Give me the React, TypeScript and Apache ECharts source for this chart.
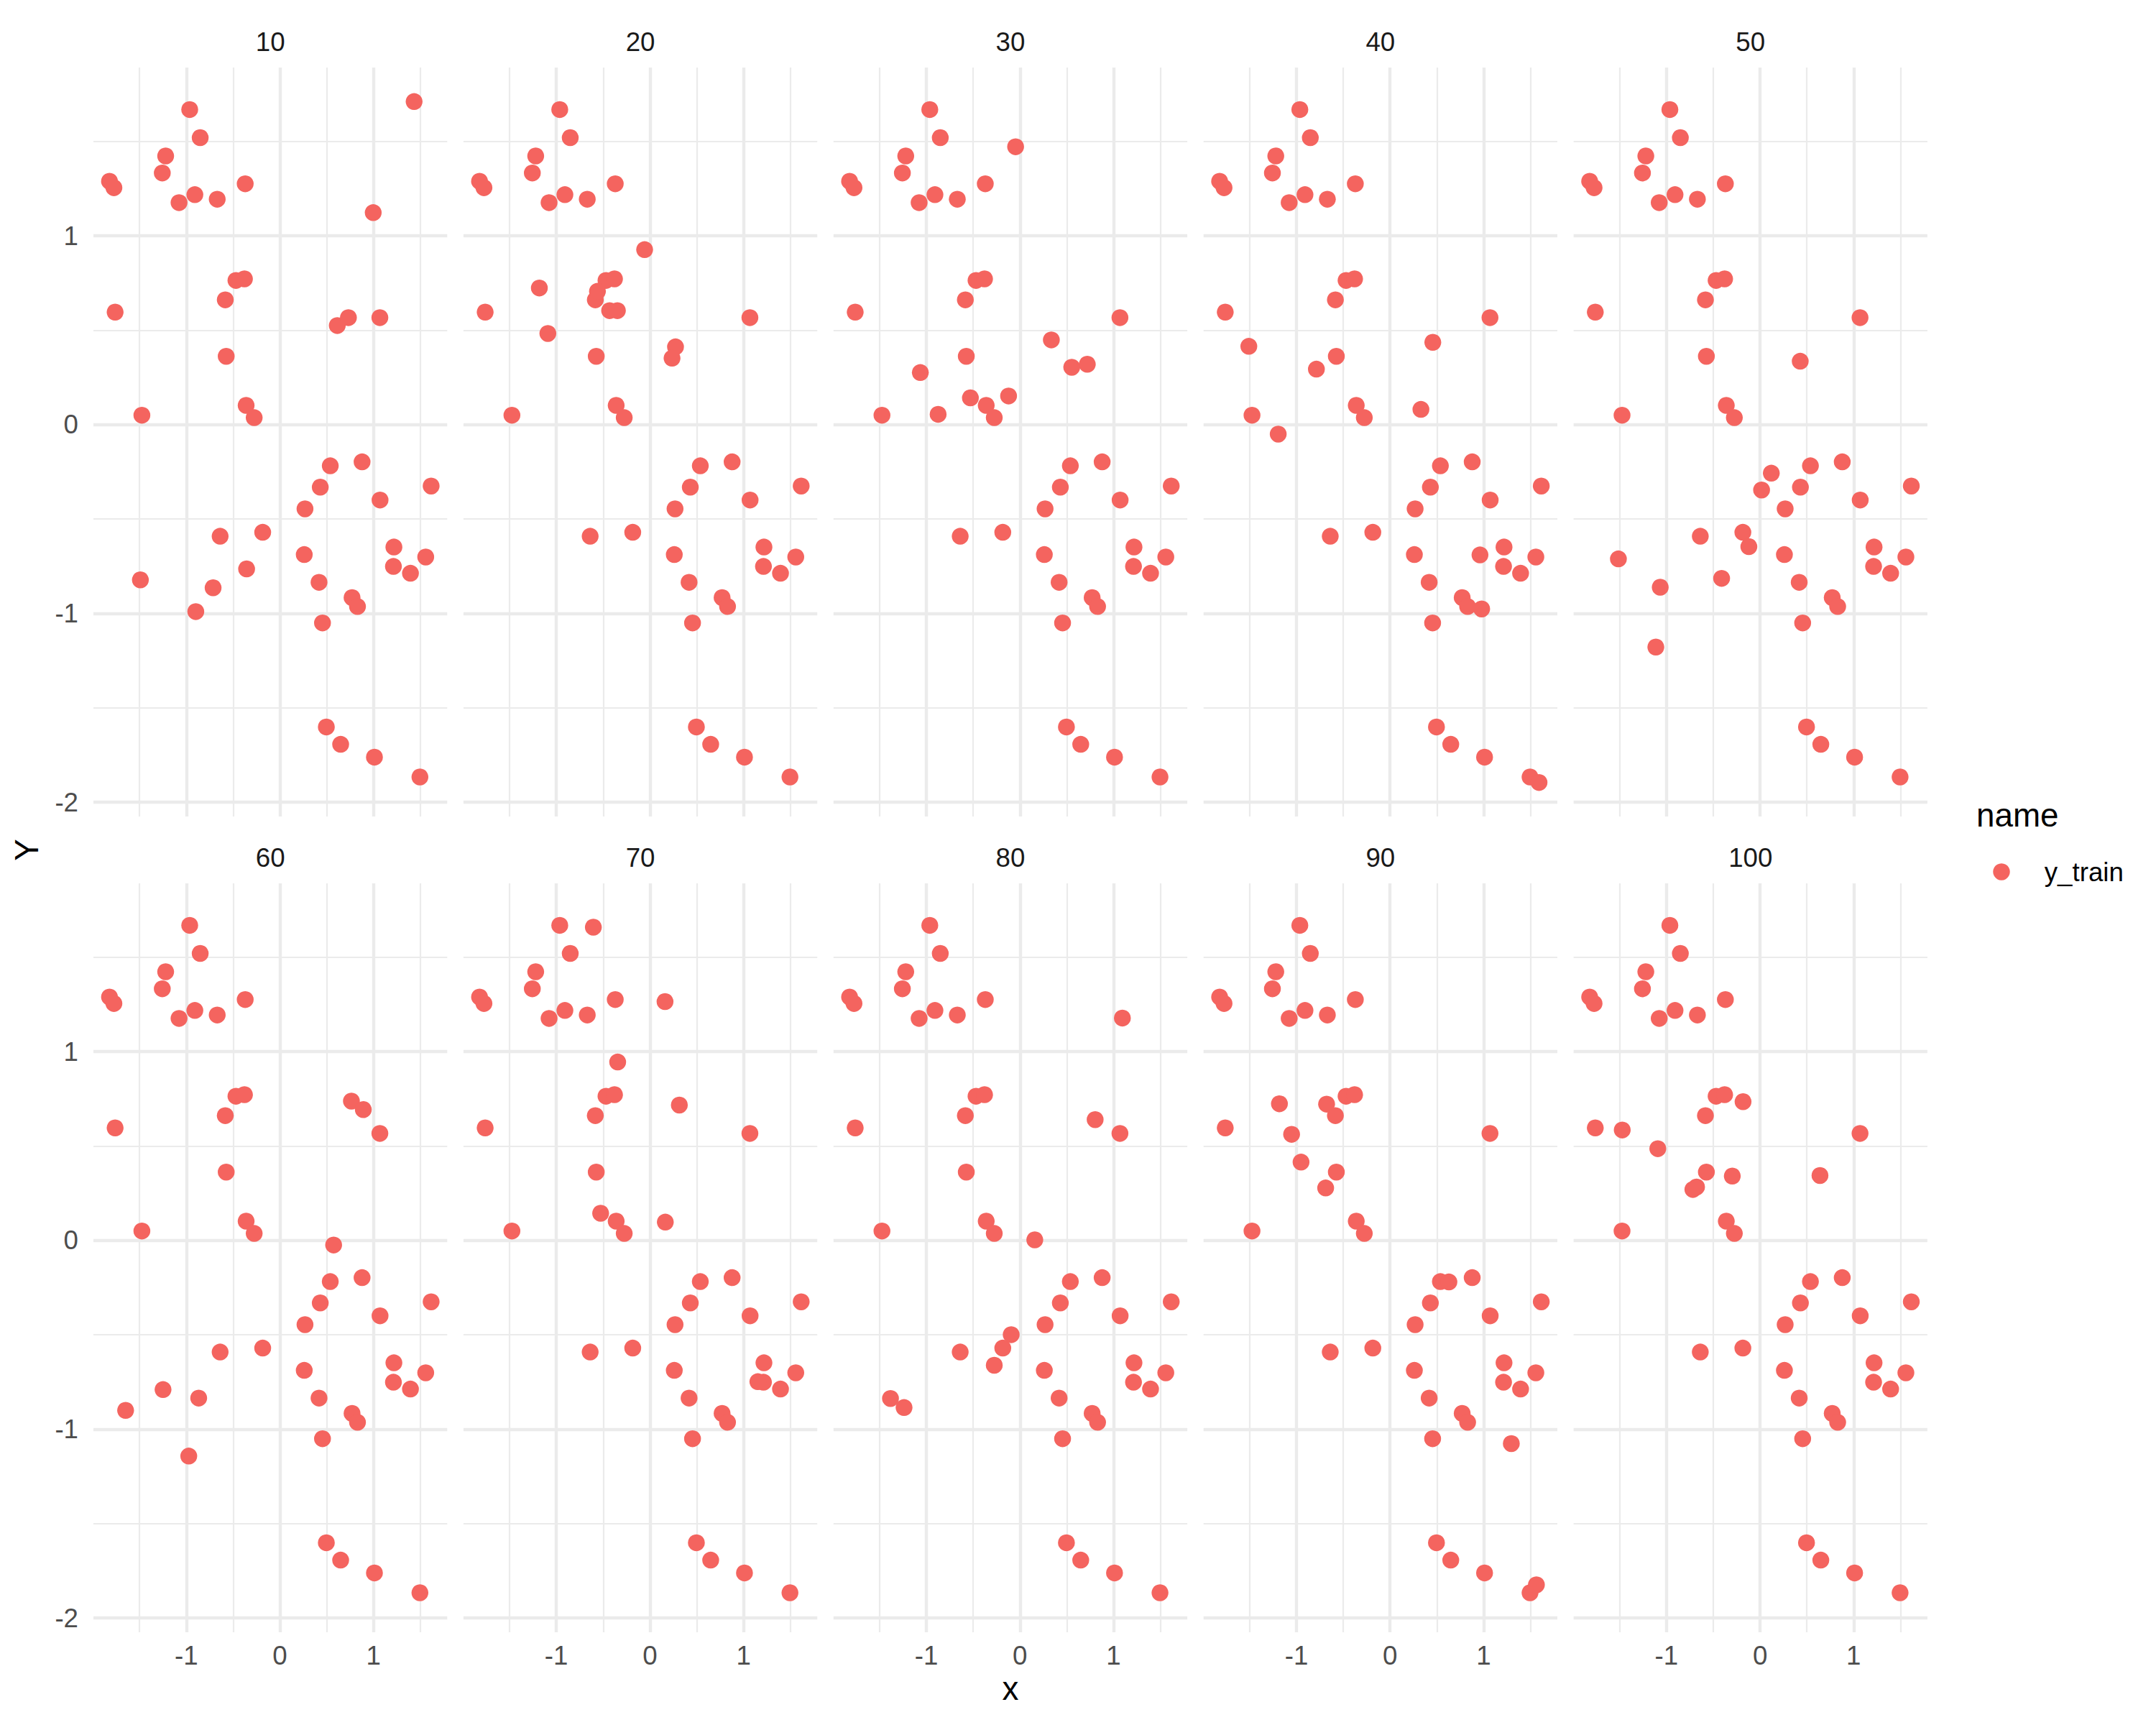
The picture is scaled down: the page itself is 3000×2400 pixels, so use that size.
import React, { useEffect, useRef } from "react";
import * as echarts from "echarts";

type Pt = [number, number];

const facetLabels = ["10", "20", "30", "40", "50", "60", "70", "80", "90", "100"];
const seriesName = "y_train";
const legendTitle = "name";
const xTitle = "x";
const yTitle = "Y";

// points shared by every facet
const common: Pt[] = [
  [-0.964, 1.669], [-0.852, 1.52], [-1.221, 1.423], [-1.257, 1.333], [-1.821, 1.289],
  [-1.774, 1.255], [-1.078, 1.176], [-0.909, 1.218], [-0.67, 1.194], [-0.371, 1.276],
  [-0.47, 0.764], [-0.379, 0.772], [-0.584, 0.661], [-1.761, 0.596], [-0.574, 0.362],
  [-1.475, 0.05], [-0.361, 0.102], [-0.275, 0.037], [1.068, 0.567],
  [0.538, -0.218], [0.878, -0.197], [0.431, -0.331], [1.616, -0.325], [0.268, -0.446],
  [1.07, -0.399], [-0.639, -0.591], [-0.184, -0.57], [0.26, -0.688], [1.218, -0.648],
  [1.558, -0.701], [1.213, -0.751], [1.395, -0.787], [0.418, -0.835], [0.771, -0.916],
  [0.829, -0.963], [0.455, -1.05], [0.496, -1.601], [0.649, -1.693], [1.01, -1.761],
  [1.496, -1.866],
];

// points that differ per facet
const extra10: Pt[] = [
  [1.434, 1.711], [0.997, 1.123], [0.613, 0.525], [0.732, 0.567],
  [-1.491, -0.822], [-0.714, -0.864], [-0.899, -0.99], [-0.356, -0.764],
];
const extra20: Pt[] = [
  [-0.057, 0.927], [-1.182, 0.724], [-0.561, 0.706], [-0.431, 0.604],
  [-0.348, 0.604], [-1.091, 0.483], [0.273, 0.412], [0.236, 0.352],
];
const extra30: Pt[] = [
  [-0.047, 1.472], [-1.065, 0.276], [0.335, 0.449], [0.553, 0.304],
  [0.719, 0.32], [-0.53, 0.142], [-0.875, 0.055], [-0.122, 0.152],
];
const extra40: Pt[] = [
  [-1.509, 0.415], [-0.787, 0.294], [-1.195, -0.05], [0.457, 0.436],
  [0.33, 0.081], [0.961, -0.69], [0.979, -0.976], [1.592, -1.895],
];
const extra50: Pt[] = [
  [0.12, -0.257], [0.016, -0.346], [0.429, 0.336], [-1.514, -0.711],
  [-1.067, -0.861], [-1.114, -1.178], [-0.411, -0.814], [-0.12, -0.646],
];
const extra60: Pt[] = [
  [0.764, 0.738], [0.891, 0.693], [0.574, -0.024], [-1.249, -0.79],
  [-1.649, -0.9], [-0.868, -0.835], [-0.974, -1.142],
];
const extra70: Pt[] = [
  [-0.605, 1.659], [0.161, 1.265], [-0.345, 0.945], [0.314, 0.717],
  [-0.527, 0.144], [0.164, 0.097], [1.153, -0.748],
];
const extra80: Pt[] = [
  [1.094, 1.178], [0.803, 0.64], [0.158, 0.003], [-0.094, -0.499],
  [-0.275, -0.661], [-1.384, -0.837], [-1.239, -0.885],
];
const extra90: Pt[] = [
  [-1.182, 0.724], [-0.678, 0.722], [-1.052, 0.562], [-0.951, 0.415],
  [-0.688, 0.278], [0.629, -0.22], [1.296, -1.076], [1.564, -1.824],
];
const extra100: Pt[] = [
  [-1.473, 0.585], [-1.093, 0.486], [-0.182, 0.735], [-0.718, 0.27],
  [-0.679, 0.283], [-0.297, 0.341], [0.64, 0.344],
];

const extras: Pt[][] = [
  extra10, extra20, extra30, extra40, extra50,
  extra60, extra70, extra80, extra90, extra100,
];

const FONT = '"Liberation Sans", Arial, Helvetica, sans-serif';
const POINT_COLOR = "#F4645F";
const GRID_COLOR = "#EBEBEB";

export default function App() {
  const ref = useRef<HTMLDivElement>(null);

  useEffect(() => {
    if (!ref.current) return;
    document.body.style.margin = "0";
    const chart = echarts.init(ref.current, null, { renderer: "svg" });

    const all: Pt[] = common.concat(...extras);
    const xs = all.map((p) => p[0]);
    const ys = all.map((p) => p[1]);
    const xMin = Math.min(...xs), xMax = Math.max(...xs);
    const yMin = Math.min(...ys), yMax = Math.max(...ys);
    const xPad = (xMax - xMin) * 0.05;
    const yPad = (yMax - yMin) * 0.05;
    const xLo = xMin - xPad, xHi = xMax + xPad;
    const yLo = yMin - yPad, yHi = yMax + yPad;

    const panelLeft0 = 130;
    const panelStep = 514.9;
    const panelW = 492.3;
    const rowTops = [94, 1229];
    const panelH = 1042;

    const intLabel = (v: number) =>
      Math.abs(v - Math.round(v)) < 1e-6 ? String(Math.round(v) + 0) : "";

    const grids: any[] = [];
    const xAxes: any[] = [];
    const yAxes: any[] = [];
    const series: any[] = [];
    const graphics: any[] = [];

    facetLabels.forEach((lab, i) => {
      const row = Math.floor(i / 5);
      const col = i % 5;
      const left = panelLeft0 + col * panelStep;
      const top = rowTops[row];
      grids.push({ left, top, width: panelW, height: panelH, containLabel: false });
      const axisCommon = {
        type: "value",
        axisLine: { show: false },
        axisTick: { show: false },
        minInterval: 1,
        maxInterval: 1,
        splitLine: {
          show: true,
          showMinLine: false,
          showMaxLine: false,
          lineStyle: { color: GRID_COLOR, width: 4.4 },
        },
        minorTick: { show: false, splitNumber: 2 },
        minorSplitLine: { show: true, lineStyle: { color: GRID_COLOR, width: 2.2 } },
      };
      xAxes.push({
        ...axisCommon,
        gridIndex: i,
        min: xLo,
        max: xHi,
        splitNumber: 3,
        axisLabel: {
          show: row === 1,
          formatter: intLabel,
          margin: 14,
          fontSize: 36.7,
          color: "#4D4D4D",
          fontFamily: FONT,
        },
      });
      yAxes.push({
        ...axisCommon,
        gridIndex: i,
        min: yLo,
        max: yHi,
        splitNumber: 4,
        axisLabel: {
          show: col === 0,
          formatter: intLabel,
          margin: 21,
          fontSize: 36.7,
          color: "#4D4D4D",
          fontFamily: FONT,
        },
      });
      series.push({
        type: "scatter",
        name: seriesName,
        xAxisIndex: i,
        yAxisIndex: i,
        symbol: "circle",
        symbolSize: 23.5,
        itemStyle: { color: POINT_COLOR, opacity: 1 },
        emphasis: { disabled: true },
        data: common.concat(extras[i]),
      });
      graphics.push({
        type: "text",
        x: left + panelW / 2,
        y: top - 36,
        style: {
          text: lab,
          fontSize: 36.7,
          fontFamily: FONT,
          fill: "#1A1A1A",
          align: "center",
          verticalAlign: "middle",
        },
      });
    });

    const plotLeft = panelLeft0;
    const plotRight = panelLeft0 + 4 * panelStep + panelW;
    graphics.push({
      type: "text",
      x: (plotLeft + plotRight) / 2,
      y: 2349,
      style: {
        text: xTitle,
        fontSize: 45.8,
        fontFamily: FONT,
        fill: "#000000",
        align: "center",
        verticalAlign: "middle",
      },
    });
    graphics.push({
      type: "text",
      x: 37,
      y: (rowTops[0] + rowTops[1] + panelH) / 2,
      rotation: Math.PI / 2,
      style: {
        text: yTitle,
        fontSize: 45.8,
        fontFamily: FONT,
        fill: "#000000",
        align: "center",
        verticalAlign: "middle",
      },
    });
    graphics.push({
      type: "text",
      x: 2750,
      y: 1134,
      style: {
        text: legendTitle,
        fontSize: 45.8,
        fontFamily: FONT,
        fill: "#000000",
        align: "left",
        verticalAlign: "middle",
      },
    });

    chart.setOption({
      animation: false,
      backgroundColor: "#FFFFFF",
      grid: grids,
      xAxis: xAxes,
      yAxis: yAxes,
      series,
      legend: {
        data: [{ name: seriesName, icon: "circle" }],
        orient: "vertical",
        left: 2773.25,
        top: 1191,
        padding: 0,
        itemWidth: 23.5,
        itemHeight: 23.5,
        selectedMode: false,
        textStyle: {
          fontSize: 36.7,
          color: "#000000",
          fontFamily: FONT,
          lineHeight: 44,
          padding: [0, 0, 0, 43],
        },
      },
      graphic: graphics,
    });

    return () => chart.dispose();
  }, []);

  return (
    <div
      ref={ref}
      style={{ position: "absolute", left: 0, top: 0, width: 3000, height: 2400 }}
    />
  );
}
